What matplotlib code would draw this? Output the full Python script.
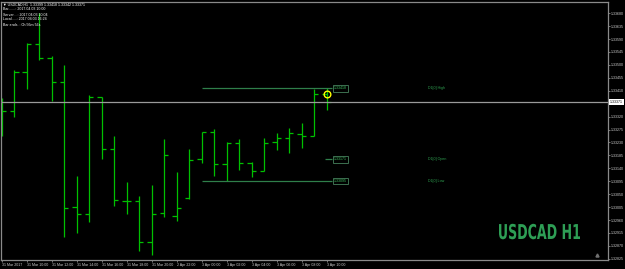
"""
USDCAD H1 bar chart, MT4 style (green on black)
"""

import matplotlib
matplotlib.use('Agg')
import matplotlib.pyplot as plt
from matplotlib.textpath import TextPath
from matplotlib.patches import PathPatch
from matplotlib.font_manager import FontProperties
from matplotlib.transforms import Affine2D

# hourly bars, 31 Mar 2017 08:00 .. 3 Apr 2017 10:00
opens = [1.33280, 1.33340, 1.33477, 1.33572, 1.33524, 1.33439, 1.33005, 1.32980, 1.33387,
         1.33207, 1.33027, 1.33027, 1.32885, 1.32986, 1.32975, 1.33036, 1.33171, 1.33265,
         1.33156, 1.33227, 1.33159, 1.33132, 1.33230, 1.33246, 1.33259, 1.33251, 1.33399]
highs = [1.33384, 1.33482, 1.33575, 1.33679, 1.33531, 1.33499, 1.33113, 1.33394, 1.33390,
         1.33252, 1.33093, 1.33044, 1.33082, 1.33242, 1.33128, 1.33208, 1.33265, 1.33277,
         1.33232, 1.33241, 1.33162, 1.33246, 1.33263, 1.33280, 1.33298, 1.33416, 1.33418]
lows = [1.33252, 1.33320, 1.33415, 1.33517, 1.33375, 1.32900, 1.32916, 1.32955, 1.33171,
        1.33010, 1.32980, 1.32853, 1.32840, 1.32972, 1.32958, 1.33032, 1.33160, 1.33113,
        1.33095, 1.33134, 1.33109, 1.33130, 1.33204, 1.33194, 1.33211, 1.33251, 1.33342]
closes = [1.33340, 1.33477, 1.33572, 1.33524, 1.33439, 1.33001, 1.32980, 1.33389, 1.33207,
          1.33029, 1.33027, 1.32885, 1.32980, 1.33185, 1.33001, 1.33170, 1.33265, 1.33156,
          1.33227, 1.33159, 1.33132, 1.33229, 1.33246, 1.33262, 1.33251, 1.33399, 1.33371]

time_labels = ['31 Mar 2017', '31 Mar 10:00', '31 Mar 12:00', '31 Mar 14:00', '31 Mar 16:00',
               '31 Mar 18:00', '31 Mar 20:00', '2 Apr 22:00', '3 Apr 00:00', '3 Apr 02:00',
               '3 Apr 04:00', '3 Apr 06:00', '3 Apr 08:00', '3 Apr 10:00']

price_ticks = [1.33680, 1.33635, 1.33590, 1.33545, 1.33500, 1.33455, 1.33410, 1.33320,
               1.33275, 1.33230, 1.33185, 1.33140, 1.33095, 1.33050, 1.33005, 1.32960,
               1.32915, 1.32870, 1.32825]

bid = 1.33371
d1_high = 1.33418
d1_open = 1.33171
d1_low = 1.33095
d1_start = 16  # first bar of 3 Apr

header = ['\u25bc USDCAD,H1  1.33399 1.33418 1.33342 1.33371',
          'Bar.......: 2017.04.03 10:00',
          'Server....: 2017.04.03 10:04',
          'Local.....: 2017.04.03 16:24',
          'Bar ends..: 0h 56m 56s']

small = ['Liberation Sans', 'DejaVu Sans']
fs = 2.65

W, H = 625, 269
fig = plt.figure(figsize=(W / 100, H / 100), dpi=100, facecolor='black')
ax = fig.add_axes([1 / W, 9 / H, 607 / W, 258 / H], facecolor='black')

bar_col = '#00c000'
n = len(opens)
x = list(range(n))
tick = 0.34

# bars: high-low line, open tick left, close tick right
ax.vlines(x, lows, highs, color=bar_col, lw=0.9)
ax.hlines(opens, [i - tick for i in x], x, color=bar_col, lw=0.9)
ax.hlines(closes, x, [i + tick for i in x], color=bar_col, lw=0.9)

# bid line
ax.axhline(bid, color='#9a9a9a', lw=0.9)

# day levels
lvl_col = '#2f7f4a'
box_x = 26.45
ax.hlines([d1_high, d1_low], d1_start, box_x, color=lvl_col, lw=0.9)
ax.hlines([d1_open], 25.9, box_x, color=lvl_col, lw=0.9)
for val, name in [(d1_high, 'High'), (d1_open, 'Open'), (d1_low, 'Low')]:
    ax.text(box_x + 0.12, val, f'{val:.5f}', color='#3cc060', fontsize=fs, va='center',
            ha='left', family=small,
            bbox=dict(boxstyle='square,pad=0.3', fc='black', ec='#3c7050', lw=0.7))
    ax.text(34.1, val, f'D1[0] {name}', color='#2ea050', fontsize=fs, va='center', ha='left',
            family=small)

# marker on current bar open
ax.plot(n - 1, opens[-1], 'o', mfc='none', mec='yellow', ms=4.8, mew=1.0)

ax.set_xlim(-0.06, 48.5)
ax.set_ylim(1.32821, 1.33719)

# axes look
for side in ['left', 'top', 'bottom', 'right']:
    ax.spines[side].set_color('#8a8a8a')
    ax.spines[side].set_linewidth(0.9)

ax.set_xticks(list(range(0, 28, 2)))
ax.set_xticklabels(time_labels, ha='left', family=small)
ax.tick_params(axis='x', colors='#8a8a8a', length=1.5, width=0.6, pad=1.0, labelsize=fs,
               labelcolor='#d0d0d0')

ax.yaxis.tick_right()
ax.set_yticks(price_ticks)
ax.set_yticklabels([f'{p:.5f}' for p in price_ticks], family=small)
ax.tick_params(axis='y', colors='#8a8a8a', length=1.5, width=0.6, pad=0.8, labelsize=fs,
               labelcolor='#d0d0d0')

# current price label on the axis
ax.text(1.003, bid, f'{bid:.5f}', transform=ax.get_yaxis_transform(), fontsize=fs,
        color='black', va='center', ha='left', family=small,
        bbox=dict(boxstyle='square,pad=0.25', fc='white', ec='white', lw=0))

# small shift icon at bottom right
ax.plot(47.6, 1.32838, marker='^', color='#707070', ms=2.2)

# header info
for i, line in enumerate(header):
    fig.text(3 / W, 1 - (4.5 + i * 5) / H, line, color='white', fontsize=fs, va='center',
             ha='left', family=small)

# watermark, squeezed to a condensed shape
tp = TextPath((0, 0), 'USDCAD H1', size=100,
              prop=FontProperties(family='DejaVu Sans', weight='bold'))
bb = tp.get_extents()
tr = Affine2D().translate(-bb.x0, -bb.y0).scale(81 / bb.width, 15.5 / bb.height).translate(499, 29.7)
fig.add_artist(PathPatch(tp, transform=tr, fc='#2e9e55', ec='none'))

fig.savefig('out.png', dpi=100, facecolor='black')
